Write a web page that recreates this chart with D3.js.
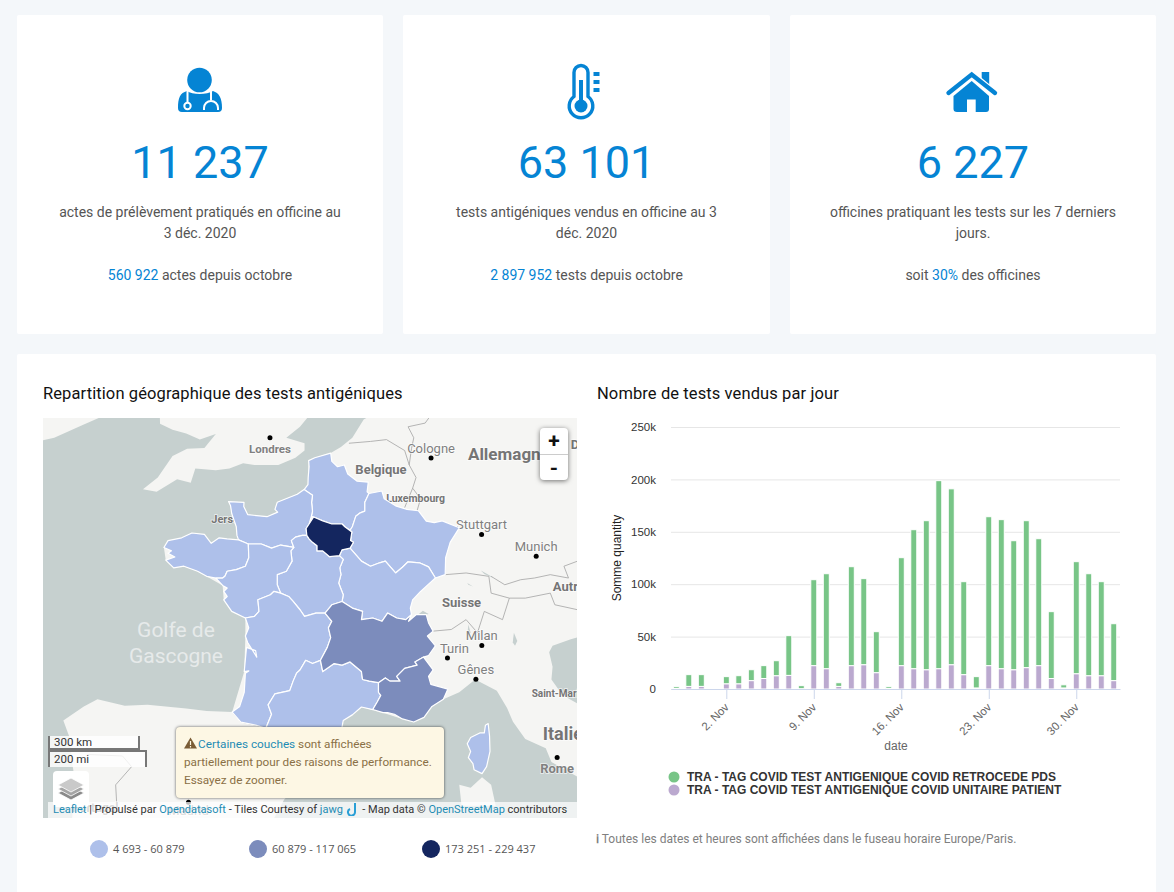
<!DOCTYPE html>
<html><head>
<meta charset="utf-8">
<script src="https://d3js.org/d3.v7.min.js"></script>
<style>
  html, body { margin: 0; padding: 0; }
  body { width: 1174px; height: 892px; overflow: hidden; position: relative; background: #f4f7fa; font-family: Roboto, sans-serif; }
  .card { position: absolute; background: #fff; border-radius: 2px; }
  .kpi { top: 15px; height: 319px; text-align: center; color: #555; font-size: 14px; }
  .kpi svg { position: absolute; top: 35px; left: 50%; margin-left: -50px; }
  .kpi .num { position: absolute; top: 120px; width: 100%; font-size: 45px; line-height: 56px; color: #0584d4; }
  .kpi .lbl { position: absolute; top: 187px; left: 30px; right: 30px; line-height: 20.5px; }
  .kpi .since { position: absolute; top: 250px; width: 100%; line-height: 20px; }
  .kpi b { font-weight: 400; color: #0584d4; }
  .title { position: absolute; top: 384px; font-size: 16.5px; line-height: 20px; color: #111; letter-spacing: .1px; }
  #mapbox { position: absolute; left: 43px; top: 418px; width: 534px; height: 400px; overflow: hidden; background: #c6d0cf; }
  #mapbox > svg { position: absolute; left: 0; top: 0; }
  .zoomctl { position: absolute; left: 497px; top: 10px; width: 28px; height: 52px; background: #fff; border-radius: 4px; box-shadow: 0 1px 5px rgba(0,0,0,.55); font: bold 21px/26px Roboto, sans-serif; text-align: center; color: #111; }
  .zoomctl div + div { border-top: 1px solid #ccc; }
  .scale { position: absolute; left: 5px; background: rgba(255,255,255,.8); border: 2px solid #777; box-sizing: border-box; font-size: 11.5px; line-height: 13px; color: #333; padding-left: 4px; }
  .layers { position: absolute; left: 10px; top: 353px; width: 36px; height: 36px; background: #fff; border-radius: 4px; }
  .attrib { position: absolute; left: 5px; right: 0; top: 384px; height: 16px; background: rgba(255,255,255,.72); font-size: 11px; line-height: 16px; color: #333; padding-left: 5px; white-space: nowrap; }
  .attrib a { color: #1e8cb4; }
  .notice { position: absolute; left: 133px; top: 309px; width: 268px; height: 71px; box-sizing: border-box; background: #fdf7e4; border-radius: 4px; box-shadow: 0 0 3px rgba(0,0,0,.65); color: #8a7046; font-size: 11.75px; line-height: 18px; padding: 8px 8px; white-space: nowrap; }
  .notice a { color: #1e8cb4; }
  #maplegend { position: absolute; left: 43px; top: 830px; }
  #chart { position: absolute; left: 597px; top: 415px; }
  #chart text { font-family: "Liberation Sans", Arial, sans-serif; }
  .y-axis .domain { display: none; }
  .y-axis line { stroke: #e6e6e6; }
  .y-axis text { font-size: 11.5px; fill: #333; }
  .x-axis .domain { stroke: #ccd6eb; }
  .x-axis line { stroke: #ccd6eb; }
  .x-axis text { font-size: 11.5px; fill: #666; }
  .foot { position: absolute; left: 596px; top: 831px; font-size: 12px; line-height: 16px; color: #808080; }
</style>
</head>
<body>

<div class="card" style="left:17px;top:354px;width:1139px;height:560px"></div>
<div class="title" style="left:43px">Repartition géographique des tests antigéniques</div>
<div class="title" style="left:597px">Nombre de tests vendus par jour</div>

<div id="mapbox">
  <svg id="map" width="534" height="400"></svg>
  <div class="zoomctl"><div>+</div><div>-</div></div>
  <div class="scale" style="top:318px;width:92px;height:14px;border-top:0">300 km</div>
  <div class="scale" style="top:332px;width:99px;height:17px;border-bottom:0;padding-top:1px">200 mi</div>
  <div class="layers"><svg id="layersIcon" width="36" height="36"></svg></div>
  <div class="attrib"><a>Leaflet</a> | Propulsé par <a>Opendatasoft</a> - Tiles Courtesy of <a>jawg</a> <svg width="14" height="14" style="vertical-align:-3px"><path d="M9 1V10A3.5 3.5 0 1 1 4 7" fill="none" stroke="#2a9fd6" stroke-width="2"/></svg> - Map data © <a>OpenStreetMap</a> contributors</div>
  <div class="notice"><svg width="14" height="12" style="vertical-align:-1px"><path d="M6.5 0.5L13 11.5H0Z" fill="#7a5c36"/><path d="M6.5 4V8M6.5 9V10.5" stroke="#fdf7e4" stroke-width="1.2"/></svg><a>Certaines couches</a> sont affichées<br>partiellement pour des raisons de performance.<br>Essayez de zoomer.</div>
</div>
<svg id="maplegend" width="534" height="40"></svg>
<svg id="chart" width="560" height="395"></svg>
<div class="foot"><b>ℹ</b> Toutes les dates et heures sont affichées dans le fuseau horaire Europe/Paris.</div>

<script>
// kpi cards
const kpiNumbers = ["11 237", "63 101", "6 227"];
const kpiLabels = ["actes de prélèvement pratiqués en officine au<br>3 déc. 2020",
                   "tests antigéniques vendus en officine au 3<br>déc. 2020",
                   "officines pratiquant les tests sur les 7 derniers<br>jours."];
const kpiSince = ["<b>560 922</b> actes depuis octobre",
                  "<b>2 897 952</b> tests depuis octobre",
                  "soit <b>30%</b> des officines"];
const kpiLeft = [17, 403, 790];
const kpiWidth = [366, 367, 366];

// daily sales, 29 Oct to 3 Dec 2020 (1 Nov has no sales)
const saleDays = ["2020-10-29","2020-10-30","2020-10-31","2020-11-02","2020-11-03","2020-11-04","2020-11-05","2020-11-06","2020-11-07","2020-11-08",
                  "2020-11-09","2020-11-10","2020-11-11","2020-11-12","2020-11-13","2020-11-14","2020-11-15","2020-11-16","2020-11-17","2020-11-18",
                  "2020-11-19","2020-11-20","2020-11-21","2020-11-22","2020-11-23","2020-11-24","2020-11-25","2020-11-26","2020-11-27","2020-11-28",
                  "2020-11-29","2020-11-30","2020-12-01","2020-12-02","2020-12-03"];
const unitaire = [500,2500,2500,5000,5000,8000,10000,12700,13000,300,22300,19400,2500,22300,23200,15600,500,22300,19400,18400,19400,23200,13700,1000,22300,19400,18400,20400,22300,10000,1000,14600,12700,12700,8000];
const retrocede = [1700,11200,11200,6800,7700,10400,12300,14300,37900,2900,82000,90600,3500,94400,82100,39100,1700,103000,132600,142200,179400,167800,88700,10800,142100,142200,123100,140200,121100,63800,3000,106900,97300,89700,54300];
const seriesNames = ["TRA - TAG COVID TEST ANTIGENIQUE COVID RETROCEDE PDS", "TRA - TAG COVID TEST ANTIGENIQUE COVID UNITAIRE PATIENT"];
const yTicks = [0, 50000, 100000, 150000, 200000, 250000];
const xTickDays = ["2020-11-02","2020-11-09","2020-11-16","2020-11-23","2020-11-30"];

// map buckets
const bucketLabels = ["4 693 - 60 879", "60 879 - 117 065", "173 251 - 229 437"];
const bucketColors = ["#aec0ea", "#7c8cbc", "#14265f"];

// regions as [lon, lat]
const hautsDeFrance = [[2.55,51.08],[1.85,50.95],[1.58,50.87],[1.6,50.7],[1.56,50.4],[1.55,50.2],[1.38,50.06],[1.75,49.9],[1.71,49.7],[1.75,49.45],[1.7,49.3],[1.8,49.28],[2.2,49.17],[2.6,49.08],[3.05,49.08],[3.17,49.0],[3.4,48.9],[3.5,49.0],[3.6,49.2],[3.65,49.3],[3.85,49.4],[4.05,49.45],[4.05,49.7],[4.23,49.95],[4.15,50.0],[4.2,50.27],[3.7,50.3],[3.3,50.5],[3.15,50.75],[2.85,50.7],[2.6,50.85]];
const normandie = [[-1.94,49.72],[-1.26,49.7],[-1.27,49.58],[-1.1,49.35],[-0.25,49.29],[0.22,49.42],[0.1,49.5],[0.2,49.7],[1.08,49.93],[1.38,50.06],[1.75,49.9],[1.71,49.7],[1.75,49.45],[1.7,49.3],[1.6,49.08],[1.47,48.95],[1.5,48.75],[1.3,48.75],[1.0,48.7],[0.82,48.6],[0.93,48.4],[0.35,48.47],[-0.05,48.38],[-0.5,48.5],[-0.85,48.5],[-1.07,48.5],[-1.25,48.55],[-1.5,48.62],[-1.57,48.75],[-1.6,49.0],[-1.8,49.38],[-1.85,49.6]];
const ileDeFrance = [[1.47,48.95],[1.6,49.08],[1.8,49.28],[2.2,49.17],[2.6,49.08],[3.05,49.08],[3.17,49.0],[3.48,48.85],[3.42,48.6],[3.55,48.55],[3.4,48.38],[3.05,48.33],[2.93,48.16],[2.5,48.13],[2.2,48.3],[1.95,48.3],[1.95,48.45],[1.75,48.55],[1.6,48.65],[1.5,48.75]];
const grandEst = [[4.23,49.95],[4.8,50.02],[4.9,49.8],[5.4,49.6],[5.9,49.5],[6.4,49.46],[6.75,49.16],[7.1,49.12],[7.45,49.17],[8.2,48.97],[7.8,48.55],[7.6,48.1],[7.58,47.6],[7.15,47.5],[6.85,47.83],[6.45,47.95],[5.95,47.98],[5.7,47.82],[5.4,47.65],[4.95,48.0],[4.7,47.95],[4.3,47.85],[3.9,48.0],[3.4,48.38],[3.55,48.55],[3.42,48.6],[3.48,48.85],[3.4,48.9],[3.5,49.0],[3.6,49.2],[3.65,49.3],[3.85,49.4],[4.05,49.45],[4.05,49.7]];
const bourgogneFC = [[3.4,48.38],[3.9,48.0],[4.3,47.85],[4.7,47.95],[4.95,48.0],[5.4,47.65],[5.7,47.82],[5.95,47.98],[6.45,47.95],[6.85,47.83],[7.15,47.5],[6.9,47.35],[6.5,47.1],[6.15,46.85],[6.05,46.6],[6.1,46.4],[5.85,46.25],[5.45,46.3],[5.05,46.45],[4.8,46.2],[4.4,46.3],[3.9,46.25],[3.95,46.5],[3.5,46.6],[3.05,46.8],[3.1,47.0],[2.9,47.35],[3.0,47.6],[2.95,47.8],[3.1,48.05],[2.93,48.16],[3.05,48.33]];
const centreVdL = [[1.5,48.75],[1.6,48.65],[1.75,48.55],[1.95,48.45],[1.95,48.3],[2.2,48.3],[2.5,48.13],[2.93,48.16],[3.1,48.05],[2.95,47.8],[3.0,47.6],[2.9,47.35],[3.1,47.0],[3.05,46.8],[2.6,46.7],[2.3,46.45],[1.9,46.45],[1.4,46.35],[1.2,46.55],[0.9,46.8],[0.7,46.95],[0.35,47.05],[0.2,47.3],[0.2,47.6],[0.6,47.7],[0.85,48.0],[0.8,48.3],[0.93,48.4],[0.82,48.6],[1.0,48.7],[1.3,48.75]];
const bretagne = [[-1.5,48.62],[-2.0,48.65],[-2.35,48.68],[-2.7,48.52],[-3.0,48.78],[-3.55,48.82],[-4.0,48.68],[-4.6,48.6],[-4.78,48.4],[-4.45,48.3],[-4.6,48.23],[-4.3,48.12],[-4.7,48.03],[-4.35,47.8],[-3.9,47.85],[-3.3,47.7],[-2.9,47.55],[-2.5,47.5],[-2.2,47.5],[-2.1,47.55],[-2.0,47.7],[-1.6,47.75],[-1.2,47.85],[-1.05,48.1],[-1.07,48.5],[-1.25,48.55]];
const paysDeLoire = [[-2.5,47.5],[-2.2,47.28],[-2.0,47.2],[-2.15,47.1],[-2.0,46.95],[-2.15,46.85],[-1.8,46.5],[-1.2,46.3],[-0.8,46.35],[-0.6,46.5],[-0.65,46.85],[-0.1,47.0],[0.05,47.1],[0.35,47.05],[0.2,47.3],[0.2,47.6],[0.6,47.7],[0.85,48.0],[0.8,48.3],[0.93,48.4],[0.35,48.47],[-0.05,48.38],[-0.5,48.5],[-0.85,48.5],[-1.07,48.5],[-1.05,48.1],[-1.2,47.85],[-1.6,47.75],[-2.0,47.7],[-2.1,47.55],[-2.2,47.5]];
const nouvelleAquitaine = [[-1.2,46.3],[-0.8,46.35],[-0.6,46.5],[-0.65,46.85],[-0.1,47.0],[0.05,47.1],[0.35,47.05],[0.7,46.95],[0.9,46.8],[1.2,46.55],[1.4,46.35],[1.9,46.45],[2.3,46.45],[2.6,46.2],[2.45,46.0],[2.55,45.7],[2.4,45.4],[2.1,45.0],[1.75,44.9],[1.45,45.0],[1.2,44.7],[1.05,44.6],[0.9,44.35],[0.75,44.05],[0.1,43.95],[-0.2,43.6],[-0.05,43.3],[-0.3,42.85],[-0.75,42.95],[-1.4,43.05],[-1.78,43.37],[-1.45,43.55],[-1.25,44.0],[-1.2,44.6],[-1.05,44.67],[-1.25,44.65],[-1.15,45.4],[-0.75,45.3],[-0.7,45.1],[-1.1,45.55],[-1.2,45.75],[-1.05,46.0]];
const occitanie = [[0.1,43.95],[0.75,44.05],[0.9,44.35],[1.05,44.6],[1.2,44.7],[1.45,45.0],[1.75,44.9],[2.1,45.0],[2.2,44.65],[2.7,44.9],[3.05,44.85],[3.4,44.95],[3.9,44.65],[3.95,44.4],[4.25,44.35],[4.65,44.3],[4.65,44.0],[4.75,43.9],[4.6,43.7],[4.4,43.45],[3.9,43.53],[3.5,43.28],[3.1,43.1],[3.0,42.7],[3.17,42.45],[2.5,42.35],[1.75,42.5],[1.45,42.6],[0.7,42.7],[0.3,42.7],[-0.3,42.85],[-0.05,43.3],[-0.2,43.6]];
const auvergneRA = [[2.3,46.45],[2.6,46.7],[3.05,46.8],[3.5,46.6],[3.95,46.5],[3.9,46.25],[4.4,46.3],[4.8,46.2],[5.05,46.45],[5.45,46.3],[5.85,46.25],[6.1,46.4],[5.97,46.2],[6.3,46.4],[6.75,46.4],[6.85,46.15],[7.05,45.9],[6.8,45.75],[7.15,45.45],[6.85,45.15],[6.63,45.1],[6.25,44.95],[6.35,44.85],[5.8,44.75],[5.45,44.5],[5.6,44.35],[5.15,44.35],[4.95,44.45],[4.65,44.3],[4.25,44.35],[3.95,44.4],[3.9,44.65],[3.4,44.95],[3.05,44.85],[2.7,44.9],[2.2,44.65],[2.1,45.0],[2.4,45.4],[2.55,45.7],[2.45,46.0],[2.6,46.2]];
const paca = [[6.63,45.1],[7.05,44.7],[6.85,44.5],[6.95,44.25],[7.7,44.1],[7.5,43.78],[7.0,43.55],[6.65,43.2],[6.2,43.05],[5.7,43.15],[5.35,43.3],[5.05,43.35],[4.85,43.35],[4.4,43.45],[4.6,43.7],[4.75,43.9],[4.65,44.0],[4.65,44.3],[4.95,44.45],[5.15,44.35],[5.6,44.35],[5.45,44.5],[5.8,44.75],[6.35,44.85],[6.25,44.95]];
const corse = [[9.47,43.0],[9.35,42.95],[9.3,42.7],[9.1,42.7],[8.7,42.55],[8.55,42.35],[8.7,42.1],[8.6,41.9],[8.8,41.7],[8.85,41.5],[9.2,41.37],[9.4,41.6],[9.55,42.1],[9.53,42.6]];
const regions = [[hautsDeFrance,0],[normandie,0],[grandEst,0],[bourgogneFC,0],[centreVdL,0],[bretagne,0],[paysDeLoire,0],[nouvelleAquitaine,0],[occitanie,0],[corse,0],[auvergneRA,1],[paca,1],[ileDeFrance,2]];

// base map
const ireland = [[-11,53],[-11,51.3],[-9.6,51.5],[-8.35,51.85],[-7.6,52.05],[-7.4,53]];
const britain = [[-5,53],[-4.95,51.88],[-4.4,51.72],[-3.8,51.62],[-3.2,51.45],[-2.5,51.6],[-3.0,51.22],[-3.76,51.2],[-4.4,51.0],[-5.05,50.4],[-5.7,50.07],[-5.1,50.0],[-4.2,50.35],[-3.6,50.25],[-3.4,50.65],[-2.5,50.6],[-1.9,50.65],[-1.3,50.8],[-0.8,50.75],[0.25,50.75],[1.0,50.95],[1.4,51.15],[1.4,51.35],[0.6,51.5],[1.2,51.8],[1.6,52.1],[1.8,53]];
const continent = [[4.3,53],[4.3,52.1],[4.0,52.0],[3.5,51.5],[3.0,51.25],[2.55,51.08],[1.85,50.95],[1.58,50.87],[1.55,50.2],[1.38,50.06],[1.08,49.93],[0.2,49.7],[0.1,49.5],[0.22,49.42],[-0.25,49.29],[-1.1,49.35],[-1.27,49.58],[-1.26,49.7],[-1.94,49.72],[-1.85,49.6],[-1.8,49.38],[-1.6,49.0],[-1.5,48.62],[-2.7,48.52],[-3.55,48.82],[-4.78,48.4],[-4.7,48.03],[-3.3,47.7],[-2.2,47.28],[-2.15,46.85],[-1.2,46.3],[-1.2,45.75],[-1.25,44.65],[-1.78,43.37],[-2.9,43.4],[-3.8,43.48],[-5.5,43.6],[-6.5,43.57],[-7.7,43.78],[-8.3,43.55],[-9.2,43.1],[-8.9,42.5],[-8.85,41.9],[-8.7,41.2],[-8.75,40.5],[-8.85,39.5],[-0.3,39.5],[0,39.8],[0.5,40.5],[1.2,41.1],[2.2,41.4],[3.2,41.9],[3.17,42.45],[3.0,42.7],[3.1,43.1],[3.9,43.53],[4.85,43.35],[5.7,43.15],[6.2,43.05],[7.0,43.55],[7.5,43.78],[8.2,44.0],[8.9,44.4],[9.85,44.05],[10.3,43.5],[10.56,43.06],[11.1,42.5],[12.0,42.2],[12.25,41.75],[13.55,41.2],[14,40.9],[15,40.9],[15,53]];
const sardinia = [[8.2,41],[8.7,40.9],[9.2,41.25],[9.6,41],[9.8,40.3],[8.3,40.3]];
const adriatic = [[12.3,45.45],[12.15,45.25],[12.3,44.8],[12.25,44.4],[12.6,44.05],[13,43.8],[13.5,43.6],[14,43.5],[14,45.7],[13.6,45.75],[13.1,45.65]];
const lakes = [[[9.15,47.72],[9.6,47.55],[9.7,47.5],[9.3,47.62]],[[10.6,45.85],[10.75,45.6],[10.65,45.45],[10.55,45.55]],[[8.6,46.1],[8.7,45.85],[8.55,45.75]],[[6.2,46.3],[6.85,46.42],[6.6,46.52]],[[8.8,47.25],[8.55,47.35],[8.6,47.3]]];
const borders = [[[3.35,51.35],[4.3,51.4],[5.0,51.45],[5.8,51.15],[6.0,50.75],[6.3,50.4],[6.15,50.1],[6.5,49.8],[6.35,49.47]],[[6.15,50.1],[5.8,49.55]],[[6.0,50.75],[6.1,51.2],[6.2,51.5],[5.95,51.8],[6.7,51.9],[7.05,52.2]],[[7.58,47.6],[8.5,47.65],[9.5,47.55],[9.6,47.05],[10.4,46.9],[10.1,46.25],[9.3,46.5],[9.0,45.85],[8.5,46.25],[7.85,45.95],[7.05,45.9]],[[9.6,47.55],[10.2,47.3],[10.9,47.45],[11.5,47.5],[12.2,47.6],[13,47.5],[12.8,47.85],[13.4,48]],[[10.4,46.9],[11.1,46.9],[12.2,47.05],[12.4,46.7],[13.4,46.55]],[[-8.15,42],[-6.6,41.95],[-6.2,41.6],[-6.9,41],[-6.85,40.3]],[[-1.78,43.37],[-1.4,43.05],[-0.75,42.95],[-0.3,42.85]]];

// place names: name, lon, lat
const cities = [["Londres",-0.12,51.5,1],["Cologne",6.96,50.94,-1],["Stuttgart",9.18,48.78,-1],["Munich",11.58,48.14,-1],["Milan",9.19,45.46,-1],["Turin",7.68,45.07,-1],["Gênes",8.93,44.41,-1],["Rome",12.5,41.9,1],["Madrid",-3.7,40.42,1]];
const countryLabels = [["Belgique",4.76,50.5,13],["Allemagne",10.38,50.9,17],["Luxembourg",6.28,49.7,10.5],["Suisse",8.3,46.64,13],["Autriche",13.4,47.1,13],["Italie",12.75,42.46,18],["Saint-Marin",12.55,43.86,10],["Jersey",-1.97,49.1,11],["Dresde",14,51.2,13],["Portugal",-7.8,40.1,12]];
const seaLabels = [["Golfe de",-4.25,45.73],["Gascogne",-4.25,44.93]];

// --- kpi cards
const iconDrawers = [
  g => {
    g.append("circle").attr("cx",49.5).attr("cy",30).attr("r",12.3).attr("fill","#0584d4");
    g.append("path").attr("fill","#0584d4").attr("d","M28 58C28 48 30 43 37 41C42 45 57 45 63 41C69 43 72 48 72 58Q72 62 68 62L32 62Q28 62 28 58Z");
    g.append("path").attr("fill","none").attr("stroke","#fff").attr("stroke-width",2).attr("d","M37.5 41V52M61 41V50M54 60V58A7 7 0 0 1 68 58V60");
    g.append("circle").attr("cx",37.5).attr("cy",56).attr("r",3.2).attr("fill","#0584d4").attr("stroke","#fff").attr("stroke-width",2);
  },
  g => {
    g.append("path").attr("fill","none").attr("stroke","#0584d4").attr("stroke-width",3.4).attr("d","M37 46.5V22.5A7 7 0 0 1 51 22.5V46.5A11.8 11.8 0 1 1 37 46.5Z");
    g.append("rect").attr("x",42).attr("y",30).attr("width",4).attr("height",24).attr("fill","#0584d4");
    g.append("circle").attr("cx",44).attr("cy",56).attr("r",6.5).attr("fill","#0584d4");
    g.selectAll("rect.tick").data([22,30,38]).join("rect").attr("class","tick").attr("x",56.5).attr("y",d=>d).attr("width",6).attr("height",4).attr("fill","#0584d4");
  },
  g => {
    g.append("rect").attr("x",58.7).attr("y",22).attr("width",7.5).attr("height",16).attr("fill","#0584d4");
    g.append("path").attr("fill","none").attr("stroke","#fff").attr("stroke-width",8).attr("d","M25 44L48.7 25L72 44");
    g.append("path").attr("fill","none").attr("stroke","#0584d4").attr("stroke-width",4.4).attr("stroke-linecap","round").attr("d","M25.5 43L48.7 24.5L72 43");
    g.append("path").attr("fill","#0584d4").attr("d","M30.5 46L48.7 31L66 46V59Q66 62 63 62H34Q30.5 62 30.5 59Z");
    g.append("rect").attr("x",44).attr("y",49.5).attr("width",8.7).attr("height",13).attr("fill","#fff");
  }
];

kpiNumbers.forEach((n, i) => {
  const card = d3.select("body").append("div").attr("class","card kpi")
      .style("left", kpiLeft[i]+"px").style("width", kpiWidth[i]+"px");
  const icon = card.append("svg").attr("width",100).attr("height",80);
  iconDrawers[i](icon.append("g"));
  card.append("div").attr("class","num").text(n);
  card.append("div").attr("class","lbl").html(kpiLabels[i]);
  card.append("div").attr("class","since").html(kpiSince[i]);
});

// --- map
const projection = d3.geoMercator().scale(1303.8).center([1.64,46.3]).translate([267,200]);
const mapLine = d3.line().x(d=>projection(d)[0]).y(d=>projection(d)[1]);
const closed = pts => mapLine(pts) + "Z";
const map = d3.select("#map");

map.selectAll("path.land").data([ireland, britain, continent, sardinia]).join("path")
    .attr("class","land").attr("d",closed).attr("fill","#f5f5f3");
map.selectAll("path.water").data([adriatic, ...lakes]).join("path")
    .attr("class","water").attr("d",closed).attr("fill","#c6d0cf");
map.selectAll("path.border").data(borders).join("path")
    .attr("class","border").attr("d",mapLine).attr("fill","none").attr("stroke","#a3a3a3").attr("stroke-width",.8);

const halo = sel => sel.attr("stroke","rgba(255,255,255,.7)").attr("stroke-width",1.5).attr("paint-order","stroke").attr("text-anchor","middle");

map.selectAll("text.sea").data(seaLabels).join("text")
    .attr("class","sea").attr("font-size",21).attr("fill","#e6eaea").attr("text-anchor","middle")
    .attr("x",d=>projection([d[1],d[2]])[0]).attr("y",d=>projection([d[1],d[2]])[1]).text(d=>d[0]);
map.selectAll("text.country").data(countryLabels).join("text")
    .attr("class","country").attr("font-size",d=>d[3]).attr("font-weight",700).attr("fill","#757575").call(halo)
    .attr("x",d=>projection([d[1],d[2]])[0]).attr("y",d=>projection([d[1],d[2]])[1]).text(d=>d[0]);
map.selectAll("circle.city").data(cities).join("circle")
    .attr("class","city").attr("r",2.5).attr("fill","#000")
    .attr("cx",d=>projection([d[1],d[2]])[0]).attr("cy",d=>projection([d[1],d[2]])[1]);
map.selectAll("text.city").data(cities).join("text")
    .attr("class","city").attr("font-size",d=>d[0]=="Londres"?11.5:13).attr("font-weight",d=>d[0]=="Londres"||d[0]=="Rome"?700:400).attr("fill","#808080").call(halo)
    .attr("x",d=>projection([d[1],d[2]])[0]+(d[0]=="Turin"?7:0))
    .attr("y",d=>projection([d[1],d[2]])[1]+(d[3]>0?(d[0]=="Madrid"?13:15):-5)).text(d=>d[0]);

map.selectAll("path.region").data(regions).join("path")
    .attr("class","region").attr("d",d=>closed(d[0])).attr("fill",d=>bucketColors[d[1]])
    .attr("stroke","#fff").attr("stroke-width",1.2).attr("stroke-linejoin","round");

// layers button
const lay = d3.select("#layersIcon");
[22,18,14].forEach((y,i) => {
  lay.append("path").attr("d",`M18 ${y-7}L31 ${y}L18 ${y+7}L5 ${y}Z`)
     .attr("fill",["#8a8a8a","#a5a5a5","#c9c9c9"][i]).attr("stroke","#fff").attr("stroke-width",.8);
});

// map legend
const legendX = [56, 215, 388];
const mapLegend = d3.select("#maplegend").selectAll("g").data(bucketLabels).join("g")
    .attr("transform",(d,i)=>`translate(${legendX[i]},19)`);
mapLegend.append("circle").attr("r",9).attr("fill",(d,i)=>bucketColors[i]);
mapLegend.append("text").attr("x",14).attr("y",4).attr("font-family","'Open Sans'").attr("font-size",11).attr("fill","#555").text(d=>d);

// --- bar chart
const chart = d3.select("#chart");
const chartMargin = {top: 12, left: 74};
const chartH = 262;
const plot = chart.append("g").attr("transform",`translate(${chartMargin.left},${chartMargin.top})`);

const parseDay = d3.utcParse("%Y-%m-%d");
const xScale = d3.scaleUtc()
    .domain([parseDay("2020-10-28").getTime()+13.8*3600e3, parseDay("2020-12-03").getTime()+12*3600e3])
    .range([0, 449]);
const yScale = d3.scaleLinear().domain([0,250000]).range([chartH,0]);

plot.append("g").attr("class","y-axis")
    .call(d3.axisLeft(yScale).tickValues(yTicks).tickSize(-449).tickPadding(15)
      .tickFormat(d => d ? (d/1000)+"k" : "0"));

const rows = saleDays.map((d,i) => ({day: parseDay(d), retrocede: retrocede[i], unitaire: unitaire[i]}));
const stacked = d3.stack().keys(["unitaire","retrocede"])(rows);
const barColor = d3.scaleOrdinal().domain(["retrocede","unitaire"]).range(["#78c587","#bba9cf"]);

plot.selectAll("g.series").data(stacked).join("g").attr("class","series")
    .attr("fill",d=>barColor(d.key))
  .selectAll("rect").data(d=>d).join("rect")
    .attr("x",d=>xScale(d.data.day)-3)
    .attr("width",6)
    .attr("y",d=>yScale(d[1]))
    .attr("height",d=>yScale(d[0])-yScale(d[1]))
    .attr("stroke","#fff").attr("stroke-width",1);

const xAxis = plot.append("g").attr("class","x-axis").attr("transform",`translate(0,${chartH})`)
    .call(d3.axisBottom(xScale).tickValues(xTickDays.map(parseDay)).tickSize(10).tickSizeOuter(0)
      .tickFormat(d => d.getUTCDate()+". Nov"));
xAxis.selectAll("text").attr("text-anchor","end").attr("x",0).attr("y",0).attr("dy",".35em")
    .attr("transform","translate(0,16) rotate(-45)");

plot.append("text").attr("x",225).attr("y",chartH+61).attr("text-anchor","middle").attr("font-size",12).attr("fill","#666").text("date");
plot.append("text").attr("transform",`translate(-50,${chartH/2}) rotate(-90)`).attr("text-anchor","middle").attr("font-size",12).attr("fill","#222").text("Somme quantity");

const chartLegend = chart.selectAll("g.leg").data(seriesNames).join("g").attr("class","leg")
    .attr("transform",(d,i)=>`translate(77,${362+i*13})`);
chartLegend.append("circle").attr("r",5.5).attr("fill",(d,i)=>barColor.range()[i]);
chartLegend.append("text").attr("x",13).attr("y",4).attr("font-size",12).attr("font-weight",700).attr("fill","#333").text(d=>d);
</script>
</body></html>
